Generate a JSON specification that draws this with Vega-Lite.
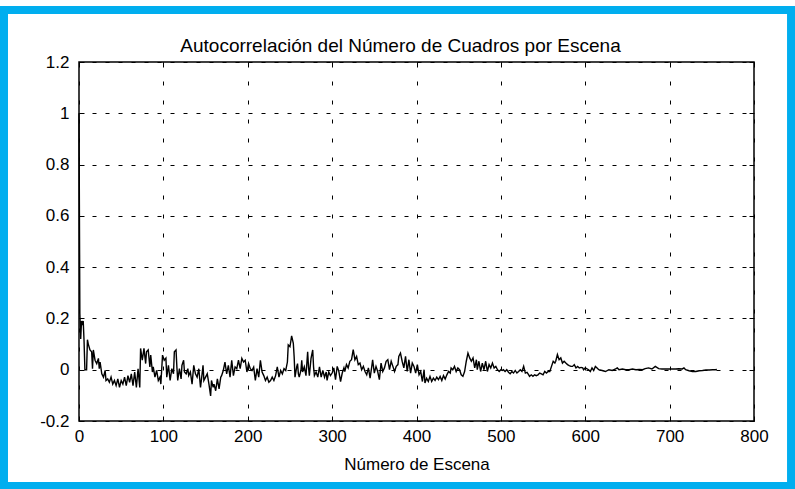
{
  "$schema": "https://vega.github.io/schema/vega-lite/v6.json",
  "width": 675,
  "height": 359,
  "autosize": {"type": "none"},
  "padding": {"left": 79, "top": 62, "right": 41, "bottom": 68},
  "background": "white",
  "config": {"view": {"stroke": "black", "strokeWidth": 1.5}, "font": "Liberation Sans"},
  "title": {"text": "Autocorrelación del Número de Cuadros por Escena", "fontSize": 19, "fontWeight": "normal", "font": "Liberation Sans", "color": "black", "anchor": "middle", "frame": "group", "offset": -50, "dx": -16},
  "resolve": {"axis": {"x": "independent", "y": "independent"}},
  "layer": [
    {
      "data": {"values": [{}]},
      "mark": {"type": "rect", "filled": false, "stroke": "#00AEEF", "strokeWidth": 8},
      "encoding": {
        "x": {"datum": -88.9, "type": "quantitative", "scale": {"domain": [0, 800], "nice": false},
              "axis": {"orient": "top", "values": [0,100,200,300,400,500,600,700,800], "labels": false, "tickSize": -5, "tickColor": "black", "domain": false, "grid": false, "title": null}},
        "x2": {"datum": 843.9},
        "y": {"datum": 1.4028, "type": "quantitative", "scale": {"domain": [-0.2, 1.2], "nice": false, "zero": false},
              "axis": {"orient": "right", "values": [-0.2,0,0.2,0.4,0.6,0.8,1,1.2], "labels": false, "tickSize": -5, "tickColor": "black", "domain": false, "grid": false, "title": null}},
        "y2": {"datum": -0.4535}
      }
    },
    {
      "data": {"values": [
        {"lag":0,"r":1.0},{"lag":1,"r":0.22},{"lag":2,"r":0.12},{"lag":3,"r":0.19},{"lag":4,"r":0.18},{"lag":5,"r":0.19},{"lag":6,"r":0.11},{"lag":7,"r":0.0},{"lag":8,"r":0.0},{"lag":9,"r":0.0},
        {"lag":10,"r":0.117},{"lag":11,"r":0.10},{"lag":13,"r":0.077},{"lag":15,"r":0.070},{"lag":16,"r":0.004},{"lag":17,"r":0.077},{"lag":19,"r":0.037},{"lag":21,"r":0.024},{"lag":23,"r":0.044},{"lag":24,"r":0.004},
        {"lag":25,"r":0.030},{"lag":27,"r":-0.016},{"lag":29,"r":-0.029},{"lag":31,"r":-0.003},{"lag":32,"r":-0.042},{"lag":34,"r":-0.036},{"lag":36,"r":-0.049},{"lag":38,"r":-0.029},{"lag":40,"r":-0.056},{"lag":42,"r":-0.042},
        {"lag":44,"r":-0.062},{"lag":46,"r":-0.036},{"lag":48,"r":-0.069},{"lag":50,"r":-0.042},{"lag":52,"r":-0.056},{"lag":54,"r":-0.029},{"lag":56,"r":-0.062},{"lag":58,"r":-0.023},{"lag":60,"r":-0.049},{"lag":62,"r":-0.016},
        {"lag":64,"r":-0.062},{"lag":66,"r":-0.009},{"lag":68,"r":-0.069},{"lag":70,"r":0.004},{"lag":72,"r":-0.069},{"lag":73,"r":0.083},{"lag":75,"r":0.037},{"lag":77,"r":0.083},{"lag":79,"r":0.024},{"lag":80,"r":0.070},
        {"lag":82,"r":0.077},{"lag":84,"r":0.011},{"lag":85,"r":0.057},{"lag":87,"r":-0.009},{"lag":88,"r":0.011},{"lag":90,"r":-0.029},{"lag":92,"r":-0.003},{"lag":94,"r":-0.042},{"lag":96,"r":-0.029},{"lag":97,"r":-0.056},
        {"lag":99,"r":0.057},{"lag":101,"r":0.037},{"lag":103,"r":0.045},{"lag":104,"r":-0.029},{"lag":106,"r":0.017},{"lag":108,"r":-0.042},{"lag":110,"r":0.004},{"lag":112,"r":-0.016},{"lag":113,"r":0.070},{"lag":115,"r":0.077},
        {"lag":116,"r":0.011},{"lag":117,"r":-0.042},{"lag":119,"r":0.004},{"lag":121,"r":-0.036},{"lag":122,"r":0.017},{"lag":124,"r":0.037},{"lag":125,"r":-0.009},{"lag":127,"r":-0.016},{"lag":129,"r":0.004},{"lag":130,"r":-0.023},
        {"lag":132,"r":-0.009},{"lag":134,"r":-0.056},{"lag":136,"r":0.017},{"lag":138,"r":-0.016},{"lag":140,"r":-0.029},{"lag":142,"r":0.004},{"lag":144,"r":-0.069},{"lag":145,"r":-0.042},{"lag":147,"r":0.017},{"lag":148,"r":-0.042},
        {"lag":150,"r":-0.029},{"lag":152,"r":-0.016},{"lag":154,"r":-0.056},{"lag":156,"r":-0.102},{"lag":157,"r":-0.042},{"lag":159,"r":-0.069},{"lag":160,"r":-0.056},{"lag":162,"r":-0.082},{"lag":164,"r":-0.036},{"lag":166,"r":-0.075},
        {"lag":168,"r":-0.029},{"lag":169,"r":-0.023},{"lag":171,"r":-0.003},{"lag":173,"r":0.030},{"lag":175,"r":-0.016},{"lag":177,"r":0.017},{"lag":179,"r":-0.029},{"lag":181,"r":0.037},{"lag":183,"r":-0.023},{"lag":185,"r":0.011},
        {"lag":187,"r":0.004},{"lag":189,"r":0.037},{"lag":191,"r":0.004},{"lag":193,"r":0.044},{"lag":195,"r":0.030},{"lag":197,"r":0.037},{"lag":199,"r":-0.009},{"lag":201,"r":0.024},{"lag":203,"r":0.004},{"lag":205,"r":-0.003},
        {"lag":207,"r":0.010},{"lag":209,"r":-0.042},{"lag":211,"r":0.004},{"lag":213,"r":-0.029},{"lag":215,"r":0.037},{"lag":217,"r":-0.009},{"lag":219,"r":-0.023},{"lag":221,"r":-0.042},{"lag":223,"r":-0.029},{"lag":225,"r":-0.049},
        {"lag":227,"r":-0.042},{"lag":229,"r":-0.029},{"lag":231,"r":-0.042},{"lag":233,"r":-0.023},{"lag":235,"r":0.011},{"lag":237,"r":-0.029},{"lag":239,"r":-0.003},{"lag":241,"r":-0.016},{"lag":243,"r":0.004},{"lag":245,"r":-0.003},
        {"lag":247,"r":0.030},{"lag":248,"r":0.097},{"lag":250,"r":0.090},{"lag":251,"r":0.110},{"lag":252,"r":0.132},{"lag":254,"r":0.103},{"lag":255,"r":0.050},{"lag":256,"r":-0.029},{"lag":258,"r":0.011},{"lag":259,"r":0.024},
        {"lag":260,"r":-0.016},{"lag":261,"r":-0.029},{"lag":263,"r":-0.003},{"lag":264,"r":0.037},{"lag":265,"r":-0.009},{"lag":267,"r":0.011},{"lag":269,"r":-0.023},{"lag":271,"r":0.070},{"lag":272,"r":0.011},{"lag":273,"r":-0.023},
        {"lag":275,"r":0.044},{"lag":277,"r":0.077},{"lag":278,"r":0.011},{"lag":279,"r":-0.023},{"lag":281,"r":-0.009},{"lag":283,"r":-0.029},{"lag":285,"r":0.011},{"lag":287,"r":-0.029},{"lag":289,"r":-0.003},{"lag":291,"r":-0.029},
        {"lag":293,"r":-0.009},{"lag":294,"r":-0.042},{"lag":296,"r":-0.009},{"lag":298,"r":-0.023},
        {"lag":300,"r":-0.013},{"lag":302,"r":0.007},{"lag":304,"r":-0.039},{"lag":306,"r":0.013},{"lag":308,"r":-0.007},{"lag":310,"r":-0.046},{"lag":312,"r":-0.013},{"lag":314,"r":0.007},{"lag":315,"r":-0.007},{"lag":317,"r":0.020},
        {"lag":319,"r":0.007},{"lag":321,"r":0.033},{"lag":323,"r":0.039},{"lag":325,"r":0.078},{"lag":327,"r":0.039},{"lag":329,"r":0.052},{"lag":331,"r":0.020},{"lag":333,"r":0.026},{"lag":335,"r":0.0},{"lag":337,"r":0.013},
        {"lag":339,"r":-0.007},{"lag":341,"r":-0.020},{"lag":343,"r":0.007},{"lag":345,"r":-0.033},{"lag":347,"r":0.013},{"lag":348,"r":0.039},{"lag":350,"r":-0.013},{"lag":352,"r":0.013},{"lag":354,"r":-0.007},{"lag":356,"r":-0.039},
        {"lag":358,"r":0.026},{"lag":360,"r":-0.007},{"lag":362,"r":0.007},{"lag":364,"r":0.033},{"lag":366,"r":0.039},{"lag":368,"r":0.0},{"lag":370,"r":0.033},{"lag":372,"r":0.013},{"lag":374,"r":-0.007},{"lag":376,"r":0.013},
        {"lag":378,"r":0.020},{"lag":379,"r":0.052},{"lag":381,"r":0.065},{"lag":383,"r":0.033},{"lag":385,"r":0.007},{"lag":387,"r":0.052},{"lag":389,"r":-0.007},{"lag":391,"r":0.039},{"lag":393,"r":-0.013},{"lag":395,"r":0.026},
        {"lag":397,"r":0.013},{"lag":399,"r":-0.013},{"lag":401,"r":0.020},{"lag":403,"r":-0.020},{"lag":405,"r":-0.007},{"lag":407,"r":-0.046},{"lag":409,"r":0.0},{"lag":410,"r":-0.052},{"lag":412,"r":-0.033},{"lag":414,"r":-0.046},
        {"lag":416,"r":-0.026},{"lag":418,"r":-0.046},{"lag":420,"r":-0.033},{"lag":422,"r":-0.042},{"lag":424,"r":-0.029},{"lag":426,"r":-0.039},{"lag":428,"r":-0.026},{"lag":430,"r":-0.042},{"lag":432,"r":-0.023},{"lag":434,"r":-0.036},
        {"lag":436,"r":-0.020},{"lag":438,"r":-0.007},{"lag":440,"r":-0.013},{"lag":441,"r":0.007},{"lag":443,"r":0.0},{"lag":445,"r":0.013},{"lag":447,"r":-0.007},{"lag":449,"r":0.007},{"lag":451,"r":0.0},{"lag":453,"r":-0.020},
        {"lag":455,"r":-0.026},{"lag":457,"r":-0.007},{"lag":459,"r":0.033},{"lag":461,"r":0.065},{"lag":463,"r":0.046},{"lag":465,"r":0.033},{"lag":467,"r":0.046},{"lag":469,"r":0.007},{"lag":471,"r":0.039},{"lag":472,"r":0.0},
        {"lag":474,"r":0.033},{"lag":476,"r":-0.007},{"lag":478,"r":0.026},{"lag":480,"r":0.0},{"lag":482,"r":0.033},{"lag":484,"r":-0.007},{"lag":486,"r":0.020},{"lag":488,"r":0.007},{"lag":490,"r":0.026},{"lag":492,"r":0.007},
        {"lag":494,"r":0.013},{"lag":496,"r":0.0},{"lag":498,"r":-0.007},{"lag":500,"r":0.0},{"lag":502,"r":-0.003},{"lag":503,"r":0.0},{"lag":505,"r":-0.007},{"lag":507,"r":0.0},{"lag":509,"r":-0.010},{"lag":511,"r":-0.016},
        {"lag":513,"r":-0.007},{"lag":515,"r":-0.013},{"lag":517,"r":-0.003},{"lag":519,"r":-0.013},{"lag":521,"r":-0.007},{"lag":523,"r":0.0},{"lag":525,"r":-0.007},{"lag":527,"r":0.013},{"lag":529,"r":-0.013},{"lag":531,"r":-0.010},
        {"lag":533,"r":-0.020},{"lag":534,"r":-0.026},{"lag":536,"r":-0.020},{"lag":538,"r":-0.026},{"lag":540,"r":-0.020},{"lag":542,"r":-0.023},{"lag":544,"r":-0.020},{"lag":546,"r":-0.013},{"lag":548,"r":-0.016},{"lag":550,"r":-0.020},
        {"lag":552,"r":-0.007},{"lag":554,"r":-0.013},{"lag":556,"r":-0.007},{"lag":558,"r":-0.007},{"lag":560,"r":0.013},{"lag":562,"r":0.033},{"lag":564,"r":0.026},{"lag":565,"r":0.033},{"lag":567,"r":0.059},{"lag":569,"r":0.039},
        {"lag":571,"r":0.046},{"lag":573,"r":0.026},{"lag":575,"r":0.033},{"lag":577,"r":0.026},{"lag":579,"r":0.020},{"lag":581,"r":0.016},{"lag":583,"r":0.013},{"lag":585,"r":0.013},{"lag":587,"r":0.020},{"lag":589,"r":0.007},
        {"lag":591,"r":0.013},{"lag":593,"r":0.007},{"lag":595,"r":0.009},{"lag":597,"r":0.007},{"lag":598,"r":0.0},{"lag":600,"r":0.007},
        {"lag":604,"r":0.0},{"lag":606,"r":-0.007},{"lag":608,"r":0.007},{"lag":610,"r":-0.003},{"lag":612,"r":0.013},{"lag":614,"r":0.007},{"lag":616,"r":0.0},{"lag":620,"r":-0.003},{"lag":624,"r":-0.007},{"lag":628,"r":0.0},
        {"lag":632,"r":-0.003},{"lag":636,"r":0.003},{"lag":638,"r":0.007},{"lag":640,"r":0.0},{"lag":644,"r":0.003},{"lag":648,"r":0.0},{"lag":652,"r":0.0},{"lag":656,"r":0.003},{"lag":660,"r":0.0},{"lag":664,"r":0.001},
        {"lag":668,"r":0.0},{"lag":671,"r":0.004},{"lag":675,"r":0.007},{"lag":679,"r":0.003},{"lag":683,"r":0.013},{"lag":687,"r":0.004},{"lag":691,"r":0.003},{"lag":695,"r":0.003},{"lag":699,"r":0.003},{"lag":703,"r":0.003},
        {"lag":707,"r":0.003},{"lag":711,"r":0.004},{"lag":715,"r":0.003},{"lag":717,"r":0.007},{"lag":719,"r":0.0},{"lag":723,"r":-0.004},{"lag":727,"r":-0.007},{"lag":731,"r":-0.007},{"lag":735,"r":-0.004},{"lag":739,"r":-0.003},
        {"lag":743,"r":-0.001},{"lag":747,"r":-0.001},{"lag":751,"r":0.0},{"lag":754,"r":0.0},{"lag":756,"r":0.001}
      ]},
      "mark": {"type": "line", "color": "black", "strokeWidth": 1.4},
      "encoding": {
        "x": {"field": "lag", "type": "quantitative", "scale": {"domain": [0, 800], "nice": false},
              "axis": {"orient": "bottom", "values": [0,100,200,300,400,500,600,700,800], "format": "d", "labelFont": "Liberation Sans", "labelFontSize": 17, "labelColor": "black", "labelFlush": false, "labelOverlap": false, "tickSize": -5, "tickColor": "black", "labelPadding": 12, "domain": false, "grid": true, "gridColor": "black", "gridOpacity": 1, "gridWidth": 1, "gridDash": [4, 15], "title": "Número de Escena", "titleFont": "Liberation Sans", "titleFontSize": 17, "titleFontWeight": "normal", "titleColor": "black", "titlePadding": 12}},
        "y": {"field": "r", "type": "quantitative", "scale": {"domain": [-0.2, 1.2], "nice": false, "zero": false},
              "axis": {"orient": "left", "values": [-0.2,0,0.2,0.4,0.6,0.8,1,1.2], "labelExpr": "datum.value < 0 ? '-' + format(-datum.value, '~g') : format(datum.value, '~g')", "labelFont": "Liberation Sans", "labelFontSize": 17, "labelColor": "black", "tickSize": -5, "tickColor": "black", "labelPadding": 15, "domain": false, "grid": true, "gridColor": "black", "gridOpacity": 1, "gridWidth": 1, "gridDash": [4, 9], "title": null}}
      }
    }
  ]
}
